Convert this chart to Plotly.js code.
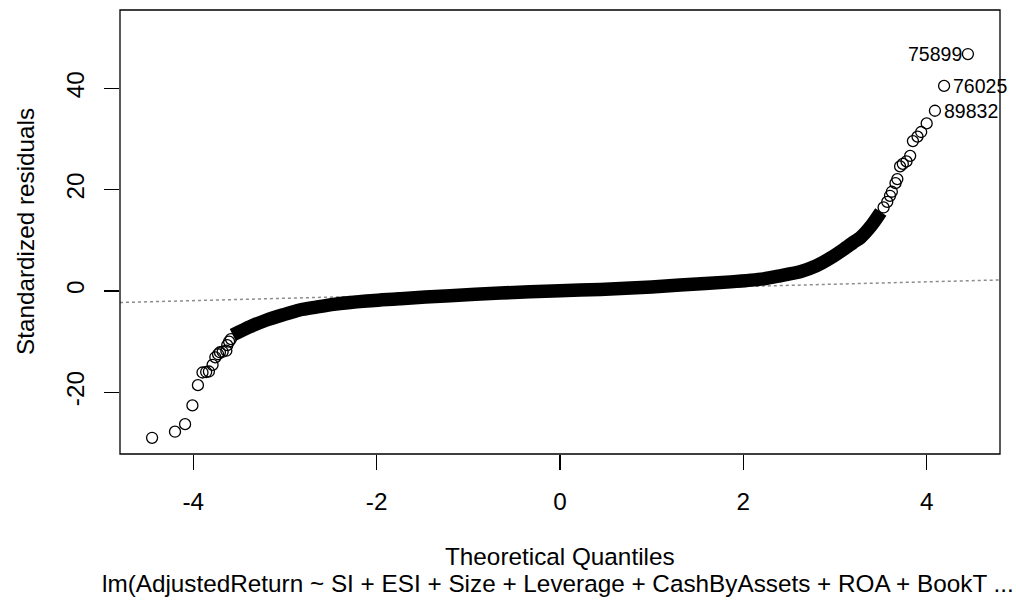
<!DOCTYPE html>
<html>
<head>
<meta charset="utf-8">
<script src="https://cdn.plot.ly/plotly-3.0.1.min.js"></script>
<style>html,body{margin:0;padding:0;background:#fff}#chart{width:1016px;height:601px}</style>
</head>
<body>
<div id="chart"></div>
<script>
// Dense central band of the Q-Q plot
var bandQ = [-3.57, -3.38, -3.20, -3.02, -2.84, -2.66, -2.47, -2.11, -1.74, -1.20, -0.65, 0.0, 0.44, 1.0, 1.31, 1.86, 2.22, 2.40, 2.62, 2.80, 2.95, 3.10, 3.20, 3.28, 3.40, 3.50];
var bandR = [-8.7, -7.05, -5.73, -4.7, -3.75, -3.2, -2.64, -1.98, -1.52, -0.92, -0.4, 0.05, 0.3, 0.8, 1.2, 1.8, 2.4, 3.0, 3.8, 5.0, 6.5, 8.3, 9.6, 10.6, 13.0, 15.6];

// Individually visible points in the tails
var tailQ = [-4.45, -4.20, -4.09, -4.01, -3.95, -3.90, -3.86, -3.83, -3.79, -3.76, -3.73, -3.71, -3.68, -3.64, -3.63, -3.61, -3.59,
             3.53, 3.57, 3.60, 3.62, 3.66, 3.68, 3.71, 3.74, 3.78, 3.82, 3.85, 3.90, 3.94, 4.00, 4.09, 4.19, 4.45];
var tailR = [-29.0, -27.8, -26.3, -22.6, -18.6, -16.1, -16.0, -15.9, -14.6, -13.1, -12.5, -12.1, -12.0, -11.8, -10.7, -10.0, -9.5,
             16.5, 17.6, 18.8, 19.6, 21.3, 22.1, 24.6, 25.1, 25.6, 26.7, 29.6, 30.5, 31.4, 33.1, 35.6, 40.5, 46.8];

// Reference (qqline) endpoints
var refQ = [-4.8, 4.8];
var refR = [-2.28, 2.18];

// Labelled observations
var idLabels = ["75899", "76025", "89832"];
var idQ = [4.45, 4.19, 4.09];
var idR = [46.8, 40.5, 35.6];
var idSide = ["left", "right", "right"];

var xTicks = [-4, -2, 0, 2, 4];
var yTicks = [-20, 0, 20, 40];

var FONT = "Liberation Sans, Arial, sans-serif";
var FS = 24.3;

var traces = [
  {x: refQ, y: refR, mode: "lines", type: "scatter", hoverinfo: "skip",
   line: {color: "#8c8c8c", width: 1.5, dash: "dot"}},
  {x: bandQ, y: bandR, mode: "lines", type: "scatter",
   line: {color: "#000", width: 13.5, shape: "spline", smoothing: 0.6}},
  {x: tailQ, y: tailR, mode: "markers", type: "scatter",
   marker: {symbol: "circle-open", size: 11, color: "#000", line: {width: 1.3, color: "#000"}}}
];

var annotations = [];
for (var i = 0; i < idLabels.length; i++) {
  annotations.push({
    x: idQ[i], y: idR[i], xref: "x", yref: "y", text: idLabels[i], showarrow: false,
    xanchor: idSide[i] === "left" ? "right" : "left",
    xshift: idSide[i] === "left" ? -4 : 7, yanchor: "middle",
    font: {family: FONT, size: 19.5, color: "#000"}
  });
}
annotations.push({x: 0.5, y: 0, xref: "paper", yref: "paper", text: "Theoretical Quantiles",
  showarrow: false, yanchor: "middle", yshift: -102, font: {family: FONT, size: FS, color: "#000"}});
annotations.push({x: 0.5, y: 0, xref: "paper", yref: "paper",
  text: "lm(AdjustedReturn ~ SI + ESI + Size + Leverage + CashByAssets + ROA + BookT ...",
  showarrow: false, yanchor: "middle", yshift: -129, xshift: -2, font: {family: FONT, size: FS, color: "#000"}});
annotations.push({x: 0, y: 0.5, xref: "paper", yref: "paper", text: "Standardized residuals",
  showarrow: false, xanchor: "center", xshift: -95, textangle: -90, font: {family: FONT, size: FS, color: "#000"}});

var layout = {
  width: 1016, height: 601,
  margin: {l: 120, r: 16, t: 10, b: 147},
  paper_bgcolor: "#fff", plot_bgcolor: "#fff",
  showlegend: false,
  font: {family: FONT, size: FS, color: "#000"},
  xaxis: {range: [-4.8, 4.8], tickvals: xTicks, ticktext: xTicks.map(String),
          ticks: "outside", ticklen: 15, tickwidth: 1.3, tickcolor: "#000",
          showgrid: false, zeroline: false, showline: false, ticklabelstandoff: 11,
          tickfont: {family: FONT, size: FS, color: "#000"}},
  yaxis: {range: [-32.2, 55.5], tickvals: yTicks, ticktext: yTicks.map(String),
          ticks: "outside", ticklen: 15, tickwidth: 1.3, tickcolor: "#000", tickangle: -90,
          showgrid: false, zeroline: false, showline: false, ticklabelstandoff: 10,
          tickfont: {family: FONT, size: FS, color: "#000"}},
  shapes: [{type: "rect", xref: "paper", yref: "paper", x0: 0, x1: 1, y0: 0, y1: 1,
            line: {color: "#000", width: 1.3}}],
  annotations: annotations
};

Plotly.newPlot("chart", traces, layout, {staticPlot: true, displayModeBar: false});
</script>
</body>
</html>
